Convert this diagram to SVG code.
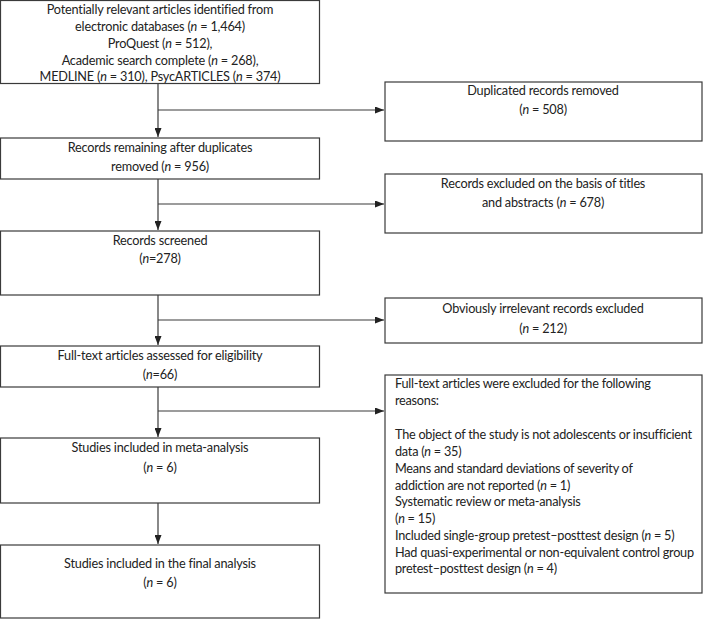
<svg xmlns="http://www.w3.org/2000/svg" width="703" height="619" viewBox="0 0 703 619">
<style>
.box{fill:#fff;stroke:#3a3a3a;stroke-width:1.2}
.t{font-family:Lato,"Open Sans",sans-serif;font-size:12.7px;letter-spacing:-0.2px;fill:#222;text-anchor:middle}
.l{font-family:Lato,"Open Sans",sans-serif;font-size:12.7px;letter-spacing:-0.25px;fill:#222}
.i{font-style:italic}
.c{fill:none;stroke:#3a3a3a;stroke-width:1.2}
</style>
<defs>
<marker id="ah" markerUnits="userSpaceOnUse" markerWidth="9" markerHeight="7" refX="9" refY="3.5" orient="auto">
<path d="M0,0 L9,3.5 L0,7 z" fill="#222"/>
</marker>
</defs>
<rect width="703" height="619" fill="#fff"/>
<g id="connectors">
<path class="c" d="M158,83 V137" marker-end="url(#ah)"/>
<path class="c" d="M158,110 H384" marker-end="url(#ah)"/>
<path class="c" d="M158,179 V230" marker-end="url(#ah)"/>
<path class="c" d="M158,204 H384" marker-end="url(#ah)"/>
<path class="c" d="M158,295 V345" marker-end="url(#ah)"/>
<path class="c" d="M158,320 H384" marker-end="url(#ah)"/>
<path class="c" d="M158,387 V437" marker-end="url(#ah)"/>
<path class="c" d="M158,411 H384" marker-end="url(#ah)"/>
<path class="c" d="M158,503 V544" marker-end="url(#ah)"/>
</g>
<g id="n1">
<rect class="box" x="0.5" y="0.5" width="319" height="83"/>
<text class="t" x="160" y="14">Potentially relevant articles identified from</text>
<text class="t" x="160" y="31">electronic databases (<tspan class="i">n</tspan> = 1,464)</text>
<text class="t" x="160" y="48">ProQuest (<tspan class="i">n</tspan> = 512),</text>
<text class="t" x="160" y="65">Academic search complete (<tspan class="i">n</tspan> = 268),</text>
<text class="t" x="160" y="81">MEDLINE (<tspan class="i">n</tspan> = 310), PsycARTICLES (<tspan class="i">n</tspan> = 374)</text>
</g>
<g id="n2">
<rect class="box" x="385" y="82" width="317" height="59"/>
<text class="t" x="543" y="95">Duplicated records removed</text>
<text class="t" x="543" y="114">(<tspan class="i">n</tspan>  = 508)</text>
</g>
<g id="n3">
<rect class="box" x="0.5" y="138" width="319" height="41"/>
<text class="t" x="160" y="152">Records remaining after duplicates</text>
<text class="t" x="160" y="171">removed (<tspan class="i">n</tspan> = 956)</text>
</g>
<g id="n4">
<rect class="box" x="385" y="174" width="317" height="59"/>
<text class="t" x="543" y="188">Records excluded on the basis of titles</text>
<text class="t" x="543" y="207">and abstracts (<tspan class="i">n</tspan> = 678)</text>
</g>
<g id="n5">
<rect class="box" x="0.5" y="231" width="319" height="64"/>
<text class="t" x="160" y="245">Records screened</text>
<text class="t" x="160" y="263">(<tspan class="i">n</tspan>=278)</text>
</g>
<g id="n6">
<rect class="box" x="385" y="298" width="317" height="45"/>
<text class="t" x="543" y="313">Obviously irrelevant records excluded</text>
<text class="t" x="543" y="333">(<tspan class="i">n</tspan> = 212)</text>
</g>
<g id="n7">
<rect class="box" x="0.5" y="346" width="319" height="41"/>
<text class="t" x="160" y="360">Full-text articles assessed for eligibility</text>
<text class="t" x="160" y="379">(<tspan class="i">n</tspan>=66)</text>
</g>
<g id="n8">
<rect class="box" x="385" y="375" width="317" height="218"/>
<text class="l" x="395" y="388">Full-text articles were excluded for the following</text>
<text class="l" x="395" y="405">reasons:</text>
<text class="l" x="395" y="439">The object of the study is not adolescents or insufficient</text>
<text class="l" x="395" y="456">data (<tspan class="i">n</tspan> = 35)</text>
<text class="l" x="395" y="473">Means and standard deviations of severity of</text>
<text class="l" x="395" y="490">addiction are not reported (<tspan class="i">n</tspan> = 1)</text>
<text class="l" x="395" y="506">Systematic review or meta-analysis</text>
<text class="l" x="395" y="523">(<tspan class="i">n</tspan> = 15)</text>
<text class="l" x="395" y="540">Included single-group pretest–posttest design (<tspan class="i">n</tspan> = 5)</text>
<text class="l" x="395" y="557">Had quasi-experimental or non-equivalent control group</text>
<text class="l" x="395" y="573">pretest–posttest design (<tspan class="i">n</tspan> = 4)</text>
</g>
<g id="n9">
<rect class="box" x="0.5" y="438" width="319" height="65"/>
<text class="t" x="160" y="452">Studies included in meta-analysis</text>
<text class="t" x="160" y="472">(<tspan class="i">n</tspan>  = 6)</text>
</g>
<g id="n10">
<rect class="box" x="0.5" y="545" width="319" height="73"/>
<text class="t" x="160" y="568">Studies included in the final analysis</text>
<text class="t" x="160" y="587">(<tspan class="i">n</tspan> = 6)</text>
</g>
</svg>
